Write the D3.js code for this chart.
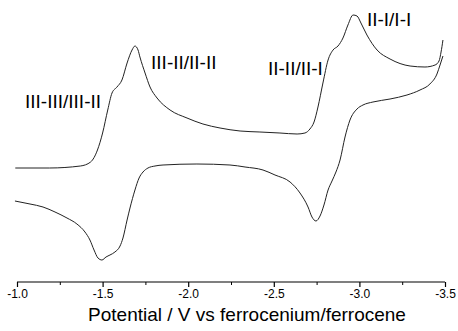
<!DOCTYPE html>
<html>
<head>
<meta charset="utf-8">
<script src="https://cdn.jsdelivr.net/npm/d3@7"></script>
<style>
  body { margin: 0; background: #fff; }
  svg { display: block; font-family: "Liberation Sans", Arial, sans-serif; }
</style>
</head>
<body>
<div id="chart"></div>
<script>
// forward scan (upper branch), potential in V vs Fc+/Fc, current in arbitrary units
const fwdPotential = [-0.99, -1.19, -1.37, -1.43, -1.47, -1.50, -1.53, -1.555, -1.584, -1.613, -1.643, -1.672, -1.689, -1.707, -1.718, -1.748, -1.777, -1.818, -1.894, -1.993, -2.086, -2.186, -2.303, -2.419, -2.536, -2.636, -2.682, -2.711, -2.735, -2.758, -2.787, -2.817, -2.846, -2.875, -2.904, -2.933, -2.963, -2.986, -3.009, -3.044, -3.103, -3.179, -3.296, -3.383, -3.442, -3.465, -3.477, -3.488];
const fwdCurrent = [0.0, 0.0, 0.2, 0.6, 1.8, 3.5, 5.8, 7.5, 8.1, 8.8, 10.5, 11.8, 12.2, 11.8, 11.1, 9.5, 8.1, 7.0, 5.8, 5.0, 4.4, 4.0, 3.7, 3.6, 3.5, 3.4, 3.5, 3.9, 4.6, 6.1, 8.5, 10.8, 11.8, 12.2, 13.0, 14.3, 15.3, 15.2, 14.5, 13.3, 11.8, 10.9, 10.2, 10.1, 10.3, 10.7, 11.6, 12.8];

// reverse scan (lower branch)
const revPotential = [-3.488, -3.471, -3.453, -3.412, -3.354, -3.278, -3.179, -3.079, -3.021, -2.986, -2.945, -2.916, -2.887, -2.863, -2.84, -2.817, -2.793, -2.77, -2.746, -2.723, -2.70, -2.653, -2.595, -2.507, -2.437, -2.332, -2.244, -2.051, -1.853, -1.806, -1.765, -1.736, -1.713, -1.689, -1.66, -1.643, -1.619, -1.602, -1.572, -1.543, -1.52, -1.496, -1.473, -1.45, -1.426, -1.397, -1.35, -1.292, -1.222, -1.152, -1.076, -0.988];
const revCurrent = [11.2, 10.3, 9.4, 8.4, 7.8, 7.3, 6.9, 6.6, 6.3, 5.9, 4.8, 3.1, 0.8, -0.4, -1.3, -2.2, -3.7, -4.8, -5.3, -4.9, -3.9, -2.5, -1.4, -0.7, -0.2, 0.1, 0.3, 0.4, 0.3, 0.2, 0.0, -0.4, -1.0, -2.2, -4.0, -5.2, -7.0, -7.8, -8.4, -8.7, -8.9, -9.2, -9.0, -8.2, -7.2, -6.4, -5.6, -5.0, -4.4, -3.9, -3.6, -3.3];

// couple labels and where they sit (potential, current)
const labelText = ['III-III/III-II', 'III-II/II-II', 'II-II/II-I', 'II-I/I-I'];
const labelPotential = [-1.047, -1.783, -2.466, -3.044];
const labelCurrent = [6.0, 9.9, 9.3, 14.2];

const majorTicks = [-1.0, -1.5, -2.0, -2.5, -3.0, -3.5];
const minorTicks = [-1.25, -1.75, -2.25, -2.75, -3.25];

const width = 458, height = 331;
const svg = d3.select('#chart').append('svg')
    .attr('width', width)
    .attr('height', height);

const x = d3.scaleLinear().domain([-1.0, -3.5]).range([17, 445]);
const y = d3.scaleLinear().domain([-12, 16]).range([288, 8]);
const axisY = 282;

const line = d3.line()
    .x(d => x(d[0]))
    .y(d => y(d[1]))
    .curve(d3.curveMonotoneX);

const fwd = fwdPotential.map((p, i) => [p, fwdCurrent[i]]);
const rev = revPotential.map((p, i) => [p, revCurrent[i]]);

svg.append('g').selectAll('path')
    .data([fwd, rev])
    .enter().append('path')
    .attr('d', line)
    .attr('fill', 'none')
    .attr('stroke', '#222')
    .attr('stroke-width', 1);

// x axis
const minorAxis = d3.axisBottom(x)
    .tickValues(minorTicks)
    .tickSize(3)
    .tickFormat('');
const majorAxis = d3.axisBottom(x)
    .tickValues(majorTicks)
    .tickSize(5)
    .tickPadding(2)
    .tickFormat(d => d.toFixed(1));

svg.append('g')
    .attr('transform', `translate(0,${axisY})`)
    .call(minorAxis)
    .call(g => g.select('.domain').remove())
    .selectAll('line').attr('stroke', '#000');

const gx = svg.append('g')
    .attr('transform', `translate(0,${axisY})`)
    .call(majorAxis);
gx.select('.domain')
    .attr('stroke', '#000')
    .attr('stroke-width', 1.2)
    .attr('d', `M${x(-1.0)},0H${x(-3.5)}`);
gx.selectAll('line').attr('stroke', '#000').attr('stroke-width', 1.2);
gx.selectAll('text')
    .attr('font-size', 12)
    .attr('font-family', '"Liberation Sans", Arial, sans-serif')
    .attr('fill', '#000');

svg.append('text')
    .attr('x', 247)
    .attr('y', 321)
    .attr('text-anchor', 'middle')
    .attr('font-size', 19)
    .attr('fill', '#000')
    .text('Potential / V vs ferrocenium/ferrocene');

// peak labels
svg.append('g').selectAll('text')
    .data(labelText)
    .enter().append('text')
    .attr('x', (d, i) => x(labelPotential[i]))
    .attr('y', (d, i) => y(labelCurrent[i]))
    .attr('font-size', 19)
    .attr('fill', '#000')
    .text(d => d);
</script>
</body>
</html>
